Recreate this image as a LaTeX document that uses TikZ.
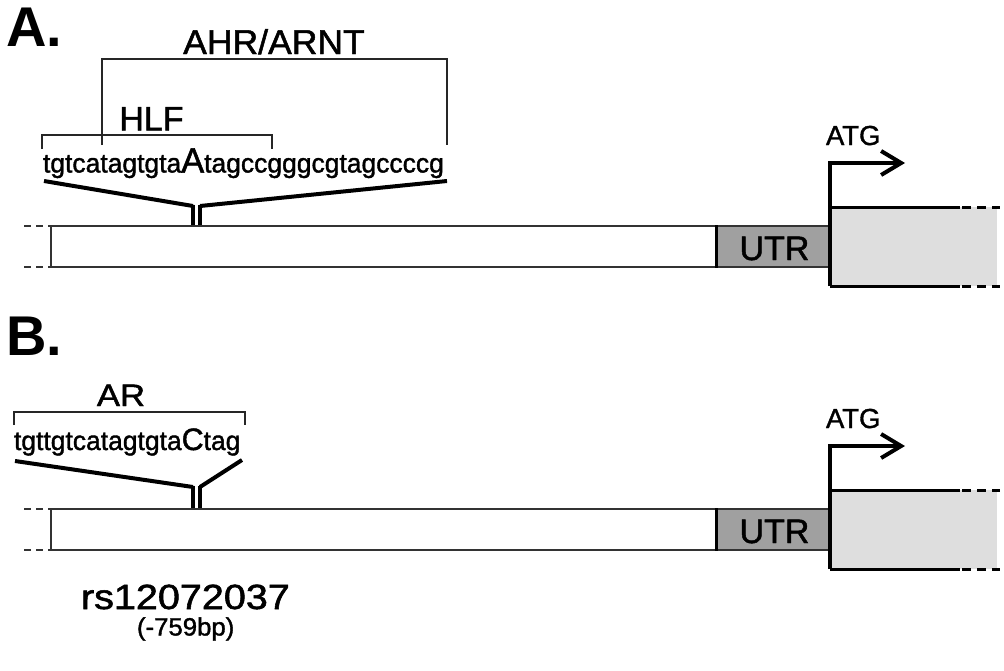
\documentclass[tikz,border=0pt]{standalone}
\usepackage{fontspec}
\setmainfont{Liberation Sans}
\newfontfamily\heavy[FakeBold=1.4]{Liberation Sans}
\usetikzlibrary{arrows.meta}
\newcommand{\fs}[1]{\fontsize{#1}{#1}\selectfont}
\definecolor{utrgray}{HTML}{A0A0A0}
\definecolor{cdsgray}{HTML}{DEDEDE}
\definecolor{boxline}{HTML}{333333}
\newcommand{\genebody}{%
  \draw[leftdash] (24,226) -- (50,226);
  \draw[leftdash] (24,267) -- (50,267);
  \draw[boxl, fill=white] (51,226) rectangle (716,267);
  \fill[utrgray] (716,226) rectangle (830,267);
  \draw[boxl] (716,226) -- (830,226) (716,267) -- (830,267);
  \draw[line width=3pt] (716,225) -- (716,268);
  \node[lbl] (utr) at (774.5,260) {\fs{34}UTR};
  \fill[cdsgray] (830,207) rectangle (997,286);
  \draw[cdsl] (830,286) -- (960,286);
  \draw[cdsl] (830,207) -- (960,207);
  \draw[rightdash] (962,207) -- (1000,207);
  \draw[rightdash] (962,286) -- (1000,286);
  \coordinate (cb) at (830,286);
  \coordinate (cc) at (830,163);
  \coordinate (ct) at (905,163);
  \draw[arr] (cb) -- (cc) -- (ct);
  \node[lbl, anchor=base west] (atg) at (826,145) {\fs{27.5}ATG};
}
\begin{document}
\begin{tikzpicture}[x=1pt,y=-1pt,
  lbl/.style={inner sep=0pt, outer sep=0pt, anchor=base, font=\heavy},
  brk/.style={line width=1.5pt, draw=black!85},
  ins/.style={line width=4pt, line join=miter, miter limit=20},
  stem/.style={line width=3.5pt},
  boxl/.style={line width=2pt, draw=boxline},
  cdsl/.style={line width=3pt, draw=black},
  leftdash/.style={line width=2pt, draw=boxline, dash pattern=on 7pt off 5pt},
  rightdash/.style={line width=3pt, draw=black, dash pattern=on 9pt off 6pt},
  arr/.style={line width=4pt, line join=miter, -{Straight Barb[length=20pt,width=24pt]}},
]
\useasboundingbox (0,0) rectangle (1004,670);

% ---------------- Panel A ----------------
\node[lbl, anchor=base west, font=\normalfont] (labA) at (6,46) {\fs{56}\bfseries A.};
\node[lbl] (ahr) at (274,54) {\scalebox{1.03}[1]{\fs{34.5}AHR/ARNT}};
\node[lbl] (hlf) at (151.5,130.5) {\fs{34}HLF};
\coordinate (ahrL) at (102,145);
\coordinate (ahrR) at (447,145);
\draw[brk] (ahrL) -- (102,59) -- (447,59) -- (ahrR);
\coordinate (hlfL) at (42,149);
\coordinate (hlfR) at (272,149);
\draw[brk] (hlfL) -- (42,135) -- (272,135) -- (hlfR);
\node[lbl, anchor=base west] (seqA) at (43,172.5)
  {\scalebox{0.98}[1]{\fs{27}tgtcatagtgta{\fs{35}A}tagccgggcgtagccccg}};
\coordinate (aL) at (44,181);
\coordinate (aR) at (447,181);
\coordinate (aS1) at (193,206);
\coordinate (aS2) at (200,206);
\draw[ins] (aL) -- (aS1);
\draw[ins] (aR) -- (aS2);
\draw[stem] (193,204.5) -- (193,226);
\draw[stem] (200,204.5) -- (200,226);
\begin{scope}[name prefix=a-]
\genebody
\end{scope}

% ---------------- Panel B ----------------
\node[lbl, anchor=base west, font=\normalfont] (labB) at (6,355) {\fs{56}\bfseries B.};
\node[lbl] (ar) at (121,406) {\scalebox{1.12}[1]{\fs{31}AR}};
\coordinate (arL) at (14,425);
\coordinate (arR) at (245,425);
\draw[brk] (arL) -- (14,412) -- (245,412) -- (arR);
\node[lbl, anchor=base west] (seqB) at (14,450)
  {\scalebox{0.98}[1]{\fs{27}tgttgtcatagtgta{\fs{31}C}tag}};
\coordinate (bL) at (15,461);
\coordinate (bR) at (242,460);
\coordinate (bS1) at (193,487);
\coordinate (bS2) at (200,487);
\draw[ins] (bL) -- (bS1);
\draw[ins] (bR) -- (bS2);
\draw[stem] (193,485.5) -- (193,509);
\draw[stem] (200,485.5) -- (200,509);
\begin{scope}[name prefix=b-, yshift=-283pt]
\genebody
\end{scope}
\node[lbl, anchor=base west] (rs) at (81,609) {\scalebox{1.13}[1]{\fs{35}rs12072037}};
\node[lbl, anchor=base west] (bp) at (137,635.5) {\scalebox{1.03}[1]{\fs{25}(-759bp)}};
\end{tikzpicture}
\end{document}
